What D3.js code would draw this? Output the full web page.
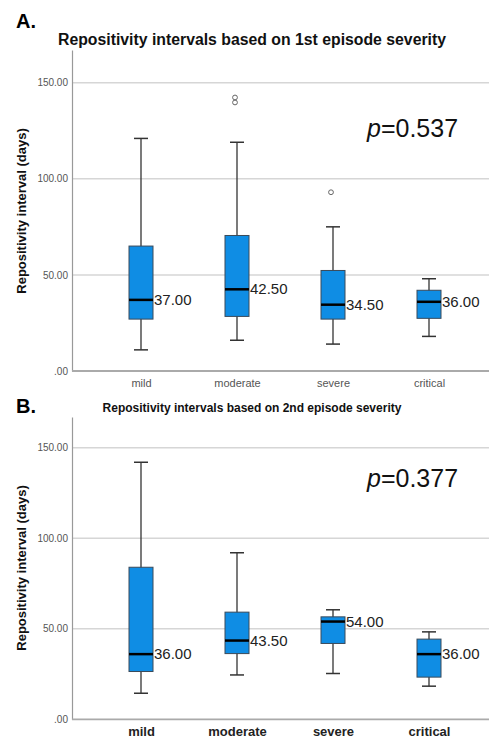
<!DOCTYPE html>
<html>
<head>
<meta charset="utf-8">
<script src="https://cdn.jsdelivr.net/npm/d3@7"></script>
<style>
  body { margin: 0; background: #fff; }
  svg { display: block; font-family: "Liberation Sans", Arial, sans-serif; }
</style>
</head>
<body>
<script>
// categories and tick values
var categories = ["mild", "moderate", "severe", "critical"];
var yTicks = [0, 50, 100, 150];

// panel A: 1st episode severity (whisker low, Q1, median, Q3, whisker high)
var lowA    = [11, 16, 14, 18];
var q1A     = [27, 28.4, 27, 27.4];
var medianA = [37, 42.5, 34.5, 36];
var q3A     = [65, 70.5, 52.3, 42];
var highA   = [121, 119, 75, 48];
var outliersA = [[], [139.7, 142.3], [93], []];

// panel B: 2nd episode severity
var lowB    = [14.4, 24.5, 25.3, 18.3];
var q1B     = [26.4, 36.3, 41.9, 23.3];
var medianB = [36, 43.5, 54, 36];
var q3B     = [84, 59.2, 56.6, 44.3];
var highB   = [142, 92, 60.5, 48.3];
var outliersB = [[], [], [], []];

var w = 489, h = 740;

var svg = d3.select("body").append("svg")
    .attr("width", w)
    .attr("height", h);

function drawPanel(cfg) {
  var g = svg.append("g");

  var x = d3.scalePoint()
      .domain(categories)
      .range([141, 429]);
  var y = d3.scaleLinear()
      .domain([0, 167])
      .range([cfg.bottom, cfg.axisTop]);

  // letter + title
  g.append("text")
      .attr("x", 16).attr("y", cfg.letterY)
      .attr("font-size", 20).attr("font-weight", "bold")
      .text(cfg.letter);
  g.append("text")
      .attr("x", 252).attr("y", cfg.titleY)
      .attr("text-anchor", "middle")
      .attr("font-size", cfg.titleSize).attr("font-weight", "bold")
      .attr("fill", "#111")
      .text(cfg.title);

  // gridlines
  g.selectAll("line.grid")
      .data(yTicks.filter(function(d) { return d > 0; }))
      .enter().append("line")
      .attr("class", "grid")
      .attr("x1", 72).attr("x2", w)
      .attr("y1", function(d) { return y(d); })
      .attr("y2", function(d) { return y(d); })
      .attr("stroke", "#d6d6d6")
      .attr("stroke-width", 1.5);

  // y axis
  var yAxis = d3.axisLeft(y)
      .tickValues(yTicks)
      .tickSize(0)
      .tickPadding(4)
      .tickFormat(function(d) { return d === 0 ? ".00" : d3.format(".2f")(d); });
  var ya = g.append("g")
      .attr("transform", "translate(72,0)")
      .call(yAxis);
  ya.select(".domain").attr("stroke", "#999").attr("stroke-width", 1.2);
  ya.selectAll("text")
      .attr("font-family", "'Liberation Sans Narrow', 'Liberation Sans', Arial, sans-serif")
      .attr("font-size", 10)
      .attr("fill", "#555");

  // x axis
  g.append("line")
      .attr("x1", 72).attr("x2", w)
      .attr("y1", cfg.bottom).attr("y2", cfg.bottom)
      .attr("stroke", "#aaa").attr("stroke-width", 1.8);
  var xAxis = d3.axisBottom(x).tickSize(0).tickPadding(cfg.xPad);
  var xa = g.append("g")
      .attr("transform", "translate(0," + cfg.bottom + ")")
      .call(xAxis);
  xa.select(".domain").remove();
  xa.selectAll("text")
      .attr("font-family", "'Liberation Sans', Arial, sans-serif")
      .attr("font-size", cfg.xSize)
      .attr("font-weight", cfg.xBold ? "bold" : "normal")
      .attr("fill", cfg.xBold ? "#222" : "#555");

  // y label
  g.append("text")
      .attr("transform", "translate(26," + cfg.labelY + ") rotate(-90)")
      .attr("text-anchor", "middle")
      .attr("font-size", 13).attr("font-weight", "bold")
      .attr("fill", "#111")
      .text("Repositivity interval (days)");

  // boxes
  var boxW = 24, capW = 14;
  var boxes = g.selectAll("g.box")
      .data(categories)
      .enter().append("g")
      .attr("class", "box");

  boxes.append("line")
      .attr("x1", function(d) { return x(d); })
      .attr("x2", function(d) { return x(d); })
      .attr("y1", function(d, i) { return y(cfg.low[i]); })
      .attr("y2", function(d, i) { return y(cfg.high[i]); })
      .attr("stroke", "#333").attr("stroke-width", 1.3);
  boxes.append("line")
      .attr("x1", function(d) { return x(d) - capW / 2; })
      .attr("x2", function(d) { return x(d) + capW / 2; })
      .attr("y1", function(d, i) { return y(cfg.high[i]); })
      .attr("y2", function(d, i) { return y(cfg.high[i]); })
      .attr("stroke", "#333").attr("stroke-width", 1.5);
  boxes.append("line")
      .attr("x1", function(d) { return x(d) - capW / 2; })
      .attr("x2", function(d) { return x(d) + capW / 2; })
      .attr("y1", function(d, i) { return y(cfg.low[i]); })
      .attr("y2", function(d, i) { return y(cfg.low[i]); })
      .attr("stroke", "#333").attr("stroke-width", 1.5);
  boxes.append("rect")
      .attr("x", function(d) { return x(d) - boxW / 2; })
      .attr("width", boxW)
      .attr("y", function(d, i) { return y(cfg.q3[i]); })
      .attr("height", function(d, i) { return y(cfg.q1[i]) - y(cfg.q3[i]); })
      .attr("fill", "#0f8de4")
      .attr("stroke", "#3a4a5a").attr("stroke-width", 1);
  boxes.append("line")
      .attr("x1", function(d) { return x(d) - boxW / 2; })
      .attr("x2", function(d) { return x(d) + boxW / 2; })
      .attr("y1", function(d, i) { return y(cfg.median[i]); })
      .attr("y2", function(d, i) { return y(cfg.median[i]); })
      .attr("stroke", "#000").attr("stroke-width", 2.5);
  boxes.append("text")
      .attr("x", function(d) { return x(d) + boxW / 2 + 1; })
      .attr("y", function(d, i) { return y(cfg.median[i]) + 5; })
      .attr("font-size", 15)
      .attr("fill", "#222")
      .text(function(d, i) { return d3.format(".2f")(cfg.median[i]); });

  // outliers
  categories.forEach(function(c, i) {
    g.selectAll(null)
        .data(cfg.outliers[i])
        .enter().append("circle")
        .attr("cx", x(c) - 2)
        .attr("cy", function(d) { return y(d); })
        .attr("r", 2.4)
        .attr("fill", "none")
        .attr("stroke", "#666").attr("stroke-width", 1);
  });

  // p value
  var pt = g.append("text")
      .attr("x", 367).attr("y", cfg.pY)
      .attr("font-size", 25)
      .attr("fill", "#111");
  pt.append("tspan").attr("font-style", "italic").text("p");
  pt.append("tspan").text("=" + cfg.p);
}

drawPanel({
  letter: "A.", letterY: 28,
  title: "Repositivity intervals based on 1st episode severity",
  titleY: 45, titleSize: 15.8,
  axisTop: 50, bottom: 371,
  xPad: 8, xSize: 11, xBold: false,
  labelY: 211,
  low: lowA, q1: q1A, median: medianA, q3: q3A, high: highA, outliers: outliersA,
  p: "0.537", pY: 137
});

drawPanel({
  letter: "B.", letterY: 413,
  title: "Repositivity intervals based on 2nd episode severity",
  titleY: 412, titleSize: 12,
  axisTop: 417, bottom: 719.3,
  xPad: 7, xSize: 13, xBold: true,
  labelY: 568,
  low: lowB, q1: q1B, median: medianB, q3: q3B, high: highB, outliers: outliersB,
  p: "0.377", pY: 487
});
</script>
</body>
</html>
